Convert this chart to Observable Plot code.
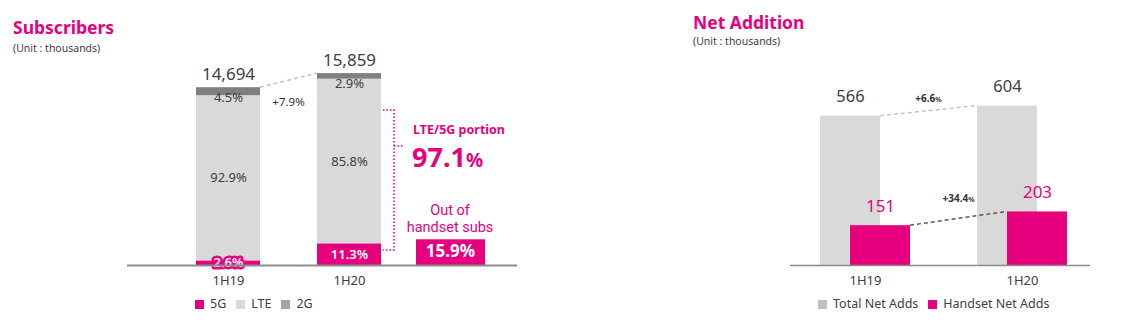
<!DOCTYPE html>
<html><head><meta charset="utf-8">
<script src="https://cdn.jsdelivr.net/npm/d3@7"></script>
<script src="https://cdn.jsdelivr.net/npm/@observablehq/plot@0.6"></script>
<style>
body{margin:0;background:#fff;font-family:"Noto Sans",sans-serif;}
#wrap{position:relative;width:1126px;height:332px;overflow:hidden;background:#fff;}
#wrap svg{position:absolute;left:0;top:0;}
.title{position:absolute;color:#e6007e;font-weight:700;font-size:17.5px;line-height:1;white-space:nowrap;}
.unit{position:absolute;color:#404040;font-size:10.5px;line-height:1;white-space:nowrap;}
.legend{position:absolute;display:flex;align-items:center;font-size:12.5px;color:#404040;line-height:1;white-space:nowrap;}
.legend .it{display:flex;align-items:center;margin-right:10px;}
.legend .sw{display:inline-block;width:9px;height:9px;margin-right:6px;}
</style>
</head><body>
<div id="wrap">
  <div class="title" style="left:13px;top:19px;">Subscribers</div>
  <div class="unit" style="left:13px;top:43px;">(Unit : thousands)</div>
  <div class="title" style="left:693px;top:14px;">Net Addition</div>
  <div class="unit" style="left:693px;top:35.5px;">(Unit : thousands)</div>
  <div class="legend" id="legL" style="left:195px;top:298px;"></div>
  <div class="legend" id="legR" style="left:818px;top:298px;"></div>
</div>
<script>
// ---- data ----
const periods = ["1H19", "1H20"];
const totalSubs = [14694, 15859];
const share5G = [2.6, 11.3];
const shareLTE = [92.9, 85.8];
const share2G = [4.5, 2.9];
const subsTypes = ["5G", "LTE", "2G"];
const subsGrowth = "+7.9%";
const lte5gPortion = "97.1";
const handset5GShare = "15.9%";

const netTypes = ["Total Net Adds", "Handset Net Adds"];
const totalNetAdds = [566, 604];
const handsetNetAdds = [151, 203];
const totalNetGrowth = "+6.6";
const handsetNetGrowth = "+34.4";

// ---- styles ----
const PINK = "#e6007e";
const DARK = "#404040";
const subsColors = [PINK, "#d9d9d9", "#7f7f7f"];
const subsLegendColors = [PINK, "#d9d9d9", "#a6a6a6"];
const netColors = ["#d9d9d9", PINK];
const netLegendColors = ["#c0c0c0", PINK];

const shares = {"5G": share5G, "LTE": shareLTE, "2G": share2G};
const subsRows = periods.flatMap((p, i) => subsTypes.map(t => ({
  period: p, type: t, share: shares[t][i], value: totalSubs[i] * shares[t][i] / 100
})));
const totalRows = periods.map((p, i) => ({period: p, total: totalSubs[i]}));
const netRows = periods.map((p, i) => ({period: p, total: totalNetAdds[i], handset: handsetNetAdds[i]}));
const pct = d => d.share.toFixed(1) + "%";

function bw(x) { return typeof x.bandwidth === "function" ? x.bandwidth() : (x.bandwidth || 0); }

function subsAnnotations(index, scales) {
  const {x, y} = scales;
  const b = bw(x);
  const g = d3.create("svg:g").attr("font-family", "Noto Sans");
  const xa = x(periods[0]) + b, xb = x(periods[1]);
  g.append("line").attr("x1", xa).attr("y1", y(totalSubs[0])).attr("x2", xb).attr("y2", y(totalSubs[1]))
    .attr("stroke", "#c4c4c4").attr("stroke-width", 1.5).attr("stroke-dasharray", "4,3");
  g.append("text").attr("x", (xa + xb) / 2).attr("y", y(totalSubs[0]) + 19).attr("text-anchor", "middle")
    .attr("font-size", 11.5).attr("fill", "#333").text(subsGrowth);
  const xe = x(periods[1]) + b, base = y(0);
  const top = y(totalSubs[1]) + 37, bottom = base - 15, brX = xe + 13;
  g.append("path").attr("d", `M${xe + 2},${top}H${brX}V${bottom}H${xe + 2}M${brX},${top + 36}H${brX + 10}`)
    .attr("fill", "none").attr("stroke", PINK).attr("stroke-width", 1.5).attr("stroke-dasharray", "1.5,2");
  g.append("text").attr("x", xe + 78).attr("y", base - 131).attr("text-anchor", "middle")
    .attr("font-size", 12.5).attr("font-weight", 700).attr("fill", PINK).text("LTE/5G portion");
  const big = g.append("text").attr("x", xe + 31).attr("y", base - 98.3).attr("text-anchor", "start")
    .attr("fill", PINK).attr("font-weight", 700);
  big.append("tspan").attr("font-size", 27).text(lte5gPortion);
  big.append("tspan").attr("font-size", 19).text("%");
  g.append("text").attr("x", xe + 69).attr("y", base - 50.5).attr("text-anchor", "middle")
    .attr("font-family", "Roboto").attr("font-size", 14.5).attr("fill", PINK).text("Out of");
  g.append("text").attr("x", xe + 69).attr("y", base - 33.3).attr("text-anchor", "middle")
    .attr("font-family", "Roboto").attr("font-size", 14.5).attr("fill", PINK).text("handset subs");
  g.append("rect").attr("x", xe + 35).attr("y", base - 25.7).attr("width", 69).attr("height", 25.7).attr("fill", PINK);
  g.append("text").attr("x", xe + 69.5).attr("y", base - 8.3).attr("text-anchor", "middle")
    .attr("font-size", 17).attr("font-weight", 700).attr("fill", "white").text(handset5GShare);
  return g.node();
}

function netAnnotations(index, scales) {
  const {x, y} = scales;
  const b = bw(x), inset = 30;
  const g = d3.create("svg:g").attr("font-family", "Noto Sans");
  const t1 = x(periods[0]) + b - inset, t2 = x(periods[1]);
  g.append("line").attr("x1", t1).attr("y1", y(totalNetAdds[0])).attr("x2", t2).attr("y2", y(totalNetAdds[1]))
    .attr("stroke", "#c4c4c4").attr("stroke-width", 1.5).attr("stroke-dasharray", "4,3");
  const h1 = x(periods[0]) + b, h2 = x(periods[1]) + inset;
  g.append("line").attr("x1", h1).attr("y1", y(handsetNetAdds[0])).attr("x2", h2).attr("y2", y(handsetNetAdds[1]))
    .attr("stroke", "#595959").attr("stroke-width", 1.5).attr("stroke-dasharray", "4,3");
  const lab = (cx, cy, s) => {
    const t = g.append("text").attr("x", cx).attr("y", cy).attr("text-anchor", "middle")
      .attr("fill", "#333").attr("font-weight", 700);
    t.append("tspan").attr("font-size", 10).text(s);
    t.append("tspan").attr("font-size", 7).text("%");
  };
  lab((t1 + t2) / 2, y(totalNetAdds[0]) - 14, totalNetGrowth);
  lab((h1 + h2) / 2, y(handsetNetAdds[0]) - 23, handsetNetGrowth);
  return g.node();
}

const wrap = document.getElementById("wrap");

const left = Plot.plot({
  width: 1126, height: 332,
  marginLeft: 127, marginRight: 609, marginTop: 0, marginBottom: 67,
  style: {background: "transparent", fontFamily: "Noto Sans", overflow: "visible"},
  x: {domain: periods, range: [195, 382], paddingInner: 0.467, paddingOuter: 0, axis: null},
  y: {domain: [0, 20000], range: [265, 23], axis: null},
  color: {domain: subsTypes, range: subsColors},
  marks: [
    Plot.barY(subsRows, {x: "period", y: "value", fill: "type"}),
    Plot.text(subsRows, Plot.stackY({x: "period", y: "value", text: d => d.type === "5G" ? pct(d) : null, fill: "white", stroke: PINK, strokeWidth: 5, paintOrder: "stroke", fontSize: 13, fontWeight: 600})),
    Plot.text(subsRows, Plot.stackY({x: "period", y: "value", text: d => d.type === "LTE" ? pct(d) : null, fill: DARK, fontSize: 13})),
    Plot.text(subsRows, Plot.stackY2({x: "period", y: "value", text: d => d.type === "2G" ? pct(d) : null, fill: DARK, fontSize: 13, dy: 10})),
    Plot.text(totalRows, {x: "period", y: "total", text: d => d3.format(",")(d.total), lineAnchor: "bottom", dy: -8, fontSize: 17, fill: DARK}),
    subsAnnotations,
    Plot.text(periods, {x: d => d, frameAnchor: "bottom", lineAnchor: "bottom", dy: 19.5, fontSize: 13, fill: DARK}),
    Plot.ruleY([0], {stroke: "#8c8c8c", strokeWidth: 2})
  ]
});
wrap.appendChild(left);

const right = Plot.plot({
  width: 1126, height: 332,
  marginLeft: 790, marginRight: 36, marginTop: 0, marginBottom: 67,
  style: {background: "transparent", fontFamily: "Noto Sans", overflow: "visible"},
  x: {domain: periods, range: [820, 1067], paddingInner: 0.4268, paddingOuter: 0, axis: null},
  y: {domain: [0, 600], range: [265, 106.7], axis: null},
  marks: [
    Plot.barY(netRows, {x: "period", y: "total", fill: netColors[0], insetRight: 30}),
    Plot.barY(netRows, {x: "period", y: "handset", fill: netColors[1], insetLeft: 30}),
    Plot.text(netRows, {x: "period", y: "total", text: d => String(d.total), dx: -15, dy: -13.7, lineAnchor: "bottom", fontSize: 16.5, fill: DARK}),
    Plot.text(netRows, {x: "period", y: "handset", text: d => String(d.handset), dx: 15, dy: -13.6, lineAnchor: "bottom", fontSize: 17, fill: PINK}),
    netAnnotations,
    Plot.text(periods, {x: d => d, frameAnchor: "bottom", lineAnchor: "bottom", dy: 19.5, fontSize: 13, fill: DARK}),
    Plot.ruleY([0], {stroke: "#8c8c8c", strokeWidth: 1.5})
  ]
});
wrap.appendChild(right);

function legend(el, names, colors) {
  names.forEach((n, i) => {
    const it = document.createElement("div");
    it.className = "it";
    it.innerHTML = `<span class="sw" style="background:${colors[i]}"></span><span>${n}</span>`;
    el.appendChild(it);
  });
}
legend(document.getElementById("legL"), subsTypes, subsLegendColors);
legend(document.getElementById("legR"), netTypes, netLegendColors);
</script>
</body></html>
